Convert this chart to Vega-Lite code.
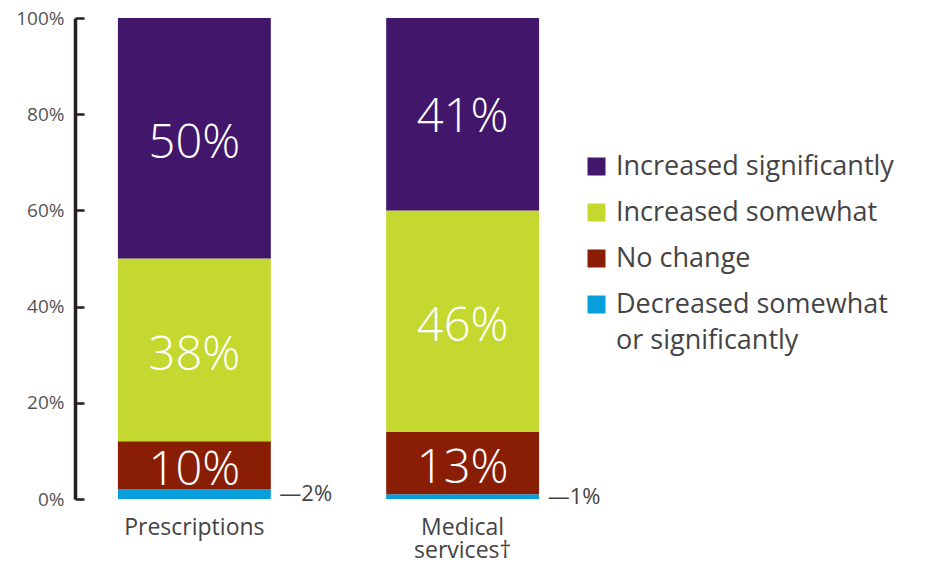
{
  "$schema": "https://vega.github.io/schema/vega-lite/v6.json",
  "width": 507,
  "height": 481,
  "autosize": {"type": "none"},
  "padding": {"left": 75, "top": 18, "right": 343, "bottom": 64},
  "background": "white",
  "config": {"view": {"stroke": null}, "font": "Open Sans"},
  "data": {
    "values": [
      {"item": "Prescriptions", "cat": "Decreased somewhat or significantly", "k": 1, "value": 0.02},
      {"item": "Prescriptions", "cat": "No change", "k": 2, "value": 0.10},
      {"item": "Prescriptions", "cat": "Increased somewhat", "k": 3, "value": 0.38},
      {"item": "Prescriptions", "cat": "Increased significantly", "k": 4, "value": 0.50},
      {"item": "Medical services†", "cat": "Decreased somewhat or significantly", "k": 1, "value": 0.01},
      {"item": "Medical services†", "cat": "No change", "k": 2, "value": 0.13},
      {"item": "Medical services†", "cat": "Increased somewhat", "k": 3, "value": 0.46},
      {"item": "Medical services†", "cat": "Increased significantly", "k": 4, "value": 0.41}
    ]
  },
  "transform": [
    {"stack": "value", "groupby": ["item"], "sort": [{"field": "k", "order": "ascending"}], "as": ["v0", "v1"]},
    {"calculate": "(datum.v0 + datum.v1) / 2", "as": "mid"}
  ],
  "encoding": {
    "x": {
      "field": "item",
      "type": "nominal",
      "sort": null,
      "scale": {"paddingInner": 0.43, "paddingOuter": 0.16},
      "axis": {
        "title": null,
        "domain": false,
        "ticks": false,
        "labelAngle": 0,
        "labelFont": "Open Sans",
        "labelFontSize": 23,
        "labelColor": "#444444",
        "labelPadding": 17,
        "labelBaseline": "top",
        "labelLineHeight": 23,
        "labelExpr": "datum.label == 'Medical services†' ? ['Medical', 'services†'] : datum.label"
      }
    }
  },
  "layer": [
    {
      "mark": {"type": "bar"},
      "encoding": {
        "y": {
          "field": "v0",
          "type": "quantitative",
          "scale": {"domain": [0, 1], "clamp": true, "nice": false},
          "axis": {
            "title": null,
            "values": [0, 0.2, 0.4, 0.6, 0.8, 1],
            "format": ".0%",
            "grid": false,
            "domainColor": "#231f20",
            "domainWidth": 3.5,
            "tickColor": "#231f20",
            "tickWidth": 2.5,
            "tickSize": -9,
            "labelPadding": 20,
            "labelFont": "Open Sans",
            "labelFontSize": 19,
            "labelColor": "#555555"
          }
        },
        "y2": {"field": "v1"},
        "color": {
          "field": "cat",
          "type": "nominal",
          "scale": {
            "domain": ["Increased significantly", "Increased somewhat", "No change", "Decreased somewhat or significantly"],
            "range": ["#42166a", "#c4d82f", "#8a1e04", "#069fdb"]
          },
          "legend": {
            "title": null,
            "orient": "none",
            "legendX": 508,
            "legendY": 135,
            "symbolType": "square",
            "symbolSize": 324,
            "symbolStrokeWidth": 0,
            "symbolOpacity": 1,
            "labelFont": "Open Sans",
            "labelFontSize": 27,
            "labelColor": "#444444",
            "labelOffset": 6,
            "labelLimit": 400,
            "rowPadding": 18,
            "labelBaseline": "top",
            "labelExpr": "datum.label == 'Decreased somewhat or significantly' ? ['Decreased somewhat', 'or significantly'] : datum.label",
            "encode": {"labels": {"update": {"dy": {"value": -13}, "lineHeight": {"value": 36}}}}
          }
        }
      }
    },
    {
      "transform": [{"filter": "datum.k > 1"}],
      "mark": {"type": "text", "color": "white", "font": "Open Sans", "fontSize": 47, "fontWeight": 300, "dy": 6},
      "encoding": {
        "y": {"field": "mid", "type": "quantitative"},
        "text": {"field": "value", "format": ".0%"}
      }
    },
    {
      "transform": [
        {"filter": "datum.k == 1"},
        {"calculate": "'—' + format(datum.value, '.0%')", "as": "note"}
      ],
      "mark": {"type": "text", "align": "left", "dx": 85, "color": "#444444", "font": "Open Sans", "fontSize": 22},
      "encoding": {
        "y": {"field": "mid", "type": "quantitative"},
        "text": {"field": "note"}
      }
    }
  ]
}
